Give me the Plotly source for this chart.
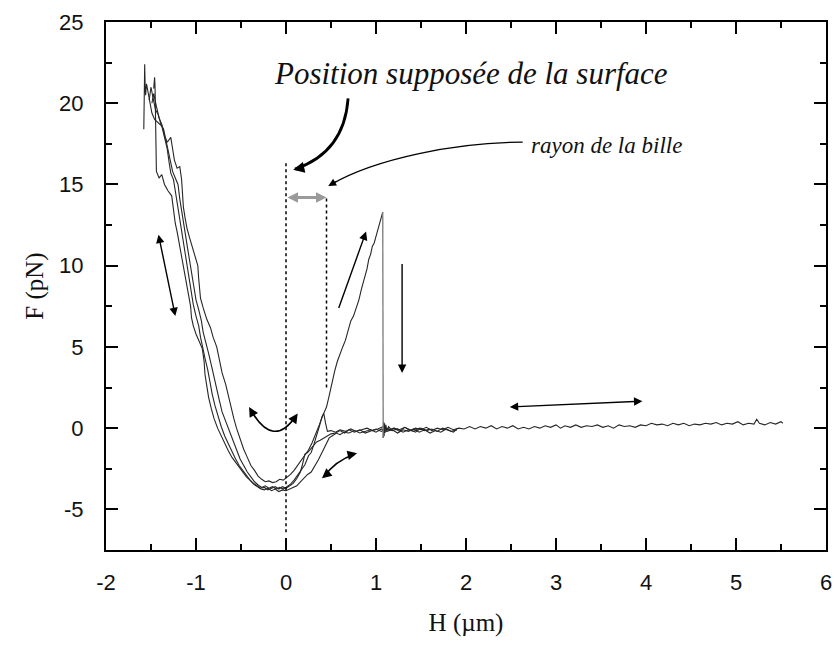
import plotly.graph_objects as go

# --- force curves (H in µm, F in pN) ---
c1_x = [-1.47, -1.46, -1.455, -1.45, -1.445, -1.44, -1.41, -1.38, -1.35, -1.31, -1.27, -1.25, -1.23, -1.21,
        -1.19, -1.17, -1.15, -1.13, -1.11, -1.08, -1.06, -1.05, -1.03, -1.00, -0.96, -0.93, -0.91, -0.90,
        -0.88, -0.86, -0.83, -0.80, -0.76, -0.72, -0.68, -0.64, -0.60, -0.56, -0.52, -0.48, -0.44, -0.40,
        -0.36, -0.32, -0.28, -0.24, -0.20, -0.16, -0.12, -0.08, -0.04, 0.0, 0.04, 0.08, 0.12, 0.16, 0.20,
        0.24, 0.28, 0.32, 0.36, 0.40, 0.44, 0.48, 0.52, 0.56, 0.60, 0.64, 0.70, 0.76, 0.82, 0.88, 0.94,
        1.00, 1.06, 1.12, 1.18, 1.24, 1.30, 1.36, 1.42, 1.48, 1.54, 1.60, 1.66, 1.72, 1.78, 1.84, 1.90]
c1_y = [20.9, 21.6, 21.0, 19.6, 17.9, 15.8, 15.4, 15.6, 15.0, 14.6, 14.3, 13.4, 12.6, 12.1,
        11.5, 10.7, 10.1, 9.5, 8.9, 8.2, 7.5, 6.8, 6.3, 5.8, 5.3, 4.9, 4.1, 3.3,
        2.6, 1.9, 1.2, 0.6, 0.0, -0.5, -1.0, -1.4, -1.8, -2.1, -2.4, -2.7, -3.0, -3.2,
        -3.45, -3.6, -3.75, -3.8, -3.7, -3.85, -3.75, -3.9, -3.8, -3.85, -3.75, -3.7, -3.55, -3.3, -3.05,
        -2.85, -2.7, -2.35, -1.95, -1.5, -1.0, -0.6, -0.45, -0.3, -0.4, -0.25, -0.3, -0.15, -0.3, -0.2, -0.1,
        -0.25, -0.05, -0.2, -0.1, -0.3, -0.1, -0.2, -0.05, -0.25, -0.1, -0.3, -0.15, -0.25, -0.05, -0.2, -0.1]

c2_x = [-1.58, -1.575, -1.57, -1.565, -1.56, -1.55, -1.53, -1.51, -1.49, -1.46, -1.42, -1.38, -1.35, -1.32,
        -1.30, -1.28, -1.25, -1.23, -1.21, -1.19, -1.17, -1.15, -1.13, -1.11, -1.09, -1.07, -1.05, -1.03,
        -1.00, -0.97, -0.95, -0.93, -0.90, -0.87, -0.85, -0.82, -0.79, -0.76, -0.72, -0.68, -0.64, -0.60,
        -0.56, -0.52, -0.48, -0.44, -0.40, -0.36, -0.32, -0.28, -0.24, -0.20, -0.16, -0.12, -0.08, -0.04,
        0.0, 0.04, 0.08, 0.12, 0.16, 0.18, 0.21, 0.24, 0.27, 0.30, 0.34, 0.38, 0.42, 0.46, 0.50, 0.55,
        0.60, 0.65, 0.70, 0.76, 0.82, 0.88, 0.94, 1.00, 1.06, 1.12, 1.18, 1.24, 1.30, 1.36, 1.42, 1.48,
        1.54, 1.60]
c2_y = [18.4, 20.4, 22.4, 21.0, 20.5, 21.2, 20.6, 19.8, 19.4, 19.0, 18.8, 18.6, 17.9, 17.2,
        16.4, 15.7, 15.3, 14.6, 13.8, 13.1, 12.4, 11.6, 10.9, 10.3, 9.6, 9.0, 8.3, 7.6,
        6.9, 6.3, 5.6, 5.0, 4.3, 3.6, 2.9, 2.1, 1.4, 0.8, 0.1, -0.5, -1.0, -1.5,
        -1.9, -2.3, -2.6, -2.95, -3.2, -3.4, -3.55, -3.7, -3.65, -3.8, -3.7, -3.6, -3.75, -3.6,
        -3.7, -3.55, -3.4, -3.1, -2.7, -2.3, -1.6, -1.5, -1.3, -1.05, -0.85, -0.75, -0.6, -0.5, -0.35, -0.3,
        -0.15, -0.3, -0.1, -0.25, -0.1, -0.3, -0.15, -0.05, -0.2, 0.0, -0.15, -0.05, -0.25, -0.1, -0.2, 0.0,
        -0.15, -0.05]

c3_x = [-1.52, -1.50, -1.48, -1.45, -1.42, -1.39, -1.36, -1.33, -1.30, -1.28, -1.26, -1.23, -1.20, -1.18,
        -1.16, -1.14, -1.12, -1.10, -1.08, -1.06, -1.04, -1.02, -1.00, -0.97, -0.94, -0.92, -0.89, -0.86,
        -0.83, -0.80, -0.77, -0.74, -0.71, -0.67, -0.63, -0.59, -0.55, -0.51, -0.47, -0.43, -0.39, -0.35,
        -0.31, -0.27, -0.23, -0.19, -0.15, -0.11, -0.07, -0.03, 0.01, 0.05, 0.09, 0.13, 0.17, 0.21, 0.25,
        0.28, 0.31, 0.34, 0.37, 0.40, 0.42, 0.44, 0.46, 0.50, 0.55, 0.60, 0.66, 0.72, 0.78, 0.84, 0.90,
        0.96, 1.02, 1.08, 1.14, 1.20, 1.26, 1.32, 1.38, 1.44, 1.50, 1.56, 1.62, 1.68, 1.74, 1.80, 1.86, 1.90]
c3_y = [20.2, 21.0, 20.4, 19.6, 19.3, 18.7, 18.4, 17.6, 17.0, 16.3, 15.8, 15.4, 15.0, 14.1,
        13.3, 12.6, 12.0, 11.3, 10.6, 10.0, 9.3, 8.6, 7.9, 7.3, 6.6, 5.9, 5.3, 4.6,
        3.9, 3.1, 2.4, 1.7, 1.0, 0.4, -0.2, -0.8, -1.4, -1.9, -2.3, -2.7, -3.0, -3.3,
        -3.5, -3.65, -3.55, -3.7, -3.6, -3.75, -3.65, -3.75, -3.6, -3.45, -3.2, -2.9, -2.6, -2.25, -1.7,
        -1.5, -1.0, -0.5, 0.1, 0.7, 0.9, 0.3, -0.2, -0.15, -0.25, -0.1, -0.2, -0.05, -0.2, -0.1, 0.0,
        -0.15, -0.05, 0.1, -0.1, 0.0, -0.2, 0.05, -0.1, -0.25, 0.0, -0.15, -0.05, -0.2, 0.0, -0.15, -0.25, -0.05]

# curve that sticks up to ~13 pN before snapping off
c4_x = [-1.49, -1.47, -1.44, -1.41, -1.38, -1.35, -1.32, -1.28, -1.26, -1.24, -1.21, -1.18, -1.16, -1.15,
        -1.14, -1.12, -1.10, -1.07, -1.04, -1.01, -0.98, -0.97, -0.96, -0.95, -0.92, -0.88, -0.84, -0.81,
        -0.77, -0.74, -0.71, -0.67, -0.64, -0.61, -0.58, -0.55, -0.51, -0.47, -0.43, -0.39, -0.35, -0.31,
        -0.27, -0.23, -0.19, -0.15, -0.11, -0.07, -0.03, 0.01, 0.05, 0.09, 0.13, 0.17, 0.21, 0.25, 0.29,
        0.33, 0.37, 0.41, 0.45, 0.48, 0.51, 0.54, 0.57, 0.60, 0.63, 0.66, 0.69, 0.72, 0.75, 0.78, 0.81,
        0.84, 0.87, 0.90, 0.92, 0.94, 0.96, 0.98, 1.00, 1.02, 1.04, 1.06, 1.075]
c4_y = [20.0, 20.6, 19.8, 19.1, 18.7, 18.0, 17.6, 17.9, 17.2, 16.5, 16.0, 16.1, 15.3, 14.5,
        13.6, 12.9, 12.3, 11.7, 11.1, 10.5, 10.0, 9.2, 8.5, 8.0, 7.4, 6.7, 6.2, 5.6,
        5.0, 4.2, 3.4, 2.7, 2.0, 1.2, 0.6, 0.0, -0.7, -1.3, -1.8, -2.3, -2.6, -2.95,
        -3.15, -3.3, -3.25, -3.35, -3.3, -3.15, -3.2, -3.05, -2.85, -2.6, -2.3, -2.0, -1.7, -1.35, -0.9,
        -0.4, 0.2, 0.8, 1.3, 2.0, 2.8, 3.5, 4.1, 4.6, 5.0, 5.4, 6.0, 6.6, 6.9, 7.4, 7.9,
        8.6, 9.2, 9.8, 10.4, 10.7, 11.2, 11.4, 11.8, 12.2, 12.5, 12.9, 13.3]

snap_x = [1.075, 1.08]
snap_y = [13.3, -0.6]

tail_x = [1.08, 1.085, 1.09, 1.095, 1.10, 1.11, 1.12, 1.14, 1.17, 1.20, 1.26, 1.32, 1.38, 1.44, 1.50,
          1.56, 1.62, 1.68, 1.74, 1.80, 1.86, 1.92, 1.98, 2.04, 2.10, 2.16, 2.22, 2.28, 2.34, 2.40, 2.46,
          2.52, 2.58, 2.64, 2.70, 2.76, 2.82, 2.88, 2.94, 3.00, 3.05, 3.10, 3.16, 3.22, 3.28, 3.34, 3.40,
          3.46, 3.52, 3.58, 3.64, 3.70, 3.76, 3.82, 3.88, 3.94, 4.00, 4.06, 4.12, 4.18, 4.24, 4.30, 4.36,
          4.42, 4.48, 4.54, 4.60, 4.66, 4.72, 4.78, 4.84, 4.90, 4.96, 5.02, 5.08, 5.14, 5.20, 5.23, 5.26,
          5.32, 5.38, 5.44, 5.50, 5.52]
tail_y = [-0.6, 0.4, -0.5, 0.3, -0.3, 0.2, -0.2, 0.1, -0.1, 0.0, -0.1, 0.05, -0.15, 0.0, -0.1,
          0.05, -0.15, 0.0, -0.1, 0.05, -0.1, 0.0, -0.05, 0.1, -0.05, 0.1, 0.0, 0.15, -0.05, 0.1, 0.0,
          0.15, -0.05, 0.05, -0.05, 0.1, 0.0, 0.15, 0.05, 0.2, 0.0, 0.15, 0.05, 0.2, 0.05, 0.15, 0.1,
          0.2, 0.05, 0.15, 0.0, 0.2, 0.1, 0.15, 0.05, 0.2, 0.15, 0.3, 0.2, 0.25, 0.15, 0.3, 0.2,
          0.3, 0.15, 0.25, 0.2, 0.3, 0.25, 0.35, 0.2, 0.3, 0.25, 0.4, 0.2, 0.3, 0.25, 0.55, 0.3,
          0.2, 0.35, 0.25, 0.4, 0.3]

x_ticks = [-2, -1, 0, 1, 2, 3, 4, 5, 6]
y_ticks = [-5, 0, 5, 10, 15, 20, 25]

line_col = "#262626"
fig = go.Figure()
for xs, ys in [(c1_x, c1_y), (c2_x, c2_y), (c3_x, c3_y), (c4_x, c4_y), (tail_x, tail_y)]:
    fig.add_trace(go.Scatter(x=xs, y=ys, mode="lines", line=dict(color=line_col, width=1.1), hoverinfo="skip"))
fig.add_trace(go.Scatter(x=snap_x, y=snap_y, mode="lines", line=dict(color="#7a7a7a", width=1.3), hoverinfo="skip"))

# dotted guide lines
fig.add_shape(type="line", x0=0, x1=0, y0=-6.4, y1=16.3, line=dict(color="black", width=1.5, dash="dot"))
fig.add_shape(type="line", x0=0.45, x1=0.45, y0=2.5, y1=14.2, line=dict(color="black", width=1.5, dash="dot"))

# curved arrows (bezier paths) - bodies
fig.add_shape(type="path", path="M 0.69,20.3 C 0.66,18.0 0.45,16.6 0.1,15.95",
              line=dict(color="black", width=2.8))
fig.add_shape(type="path", path="M 2.63,17.6 C 1.9,17.6 1.0,16.6 0.5,15.0",
              line=dict(color="black", width=1.3))
fig.add_shape(type="path", path="M -0.39,1.1 Q -0.14,-1.3 0.11,0.75",
              line=dict(color="black", width=1.6))
fig.add_shape(type="path", path="M 0.42,-3.0 Q 0.545,-2.01 0.76,-1.6",
              line=dict(color="black", width=1.6))


def arrow(hx, hy, tx, ty, w=1.4, side="end", col="black", size=1.2):
    fig.add_annotation(x=hx, y=hy, ax=tx, ay=ty, xref="x", yref="y", axref="x", ayref="y",
                       text="", showarrow=True, arrowhead=2, arrowsize=size, arrowwidth=w,
                       arrowcolor=col, arrowside=side, startarrowhead=2, startarrowsize=size)


# straight arrows
arrow(-1.23, 6.9, -1.42, 12.0, side="end+start")
arrow(0.89, 12.1, 0.58, 7.3)
arrow(1.29, 3.4, 1.29, 10.2)
arrow(3.96, 1.66, 2.47, 1.3, side="end+start")
arrow(0.45, 14.2, 0.0, 14.2, w=3, side="end+start", col="#9a9a9a", size=0.7)
# heads of curved arrows
arrow(0.08, 15.9, 0.2, 16.05, w=2.8, size=0.8)
arrow(0.47, 14.9, 0.58, 15.25, w=1.3)
arrow(-0.41, 1.3, -0.37, 0.91, w=1.6)
arrow(0.13, 0.9, 0.09, 0.57, w=1.6)
arrow(0.40, -3.08, 0.45, -2.85, w=1.6)
arrow(0.79, -1.54, 0.72, -1.63, w=1.6)

serif = "Liberation Serif, Times New Roman, serif"
fig.add_annotation(x=2.05, y=21.8, xref="x", yref="y", text="<i>Position supposée de la surface</i>",
                   showarrow=False, font=dict(family=serif, size=31, color="#111"))
fig.add_annotation(x=3.56, y=17.4, xref="x", yref="y", text="<i>rayon de la bille</i>",
                   showarrow=False, font=dict(family=serif, size=23, color="#111"))

axis_common = dict(showline=True, linecolor="black", linewidth=2, mirror="allticks", ticks="inside",
                   ticklen=12, tickwidth=1.5, tickcolor="black", showgrid=False, zeroline=False,
                   automargin=False,
                   tickfont=dict(family="Liberation Sans, Arial, sans-serif", size=22, color="#111"))
fig.update_xaxes(range=[-2, 6], tickvals=x_ticks, ticktext=[str(v) for v in x_ticks],
                 minor=dict(dtick=0.5, tick0=0, ticklen=6, tickwidth=1.5, tickcolor="black", ticks="inside"),
                 title=dict(text="H (µm)", font=dict(family=serif, size=25, color="#111"), standoff=19),
                 ticklabelstandoff=12, **axis_common)
fig.update_yaxes(range=[-7.5, 25], tickvals=y_ticks, ticktext=[str(v) for v in y_ticks],
                 minor=dict(dtick=2.5, tick0=0, ticklen=6, tickwidth=1.5, tickcolor="black", ticks="inside"),
                 title=dict(text="F (pN)", font=dict(family=serif, size=25, color="#111"), standoff=8),
                 ticklabelstandoff=16, **axis_common)
fig.update_layout(width=834, height=646, showlegend=False, plot_bgcolor="white", paper_bgcolor="white",
                  margin=dict(l=106, r=8, t=22, b=96))
# drop the browser's default 8px body margin so the figure fills the window exactly
fig.write_html("out.html", config={"displayModeBar": False},
               post_script="document.body.style.margin='0px';")
